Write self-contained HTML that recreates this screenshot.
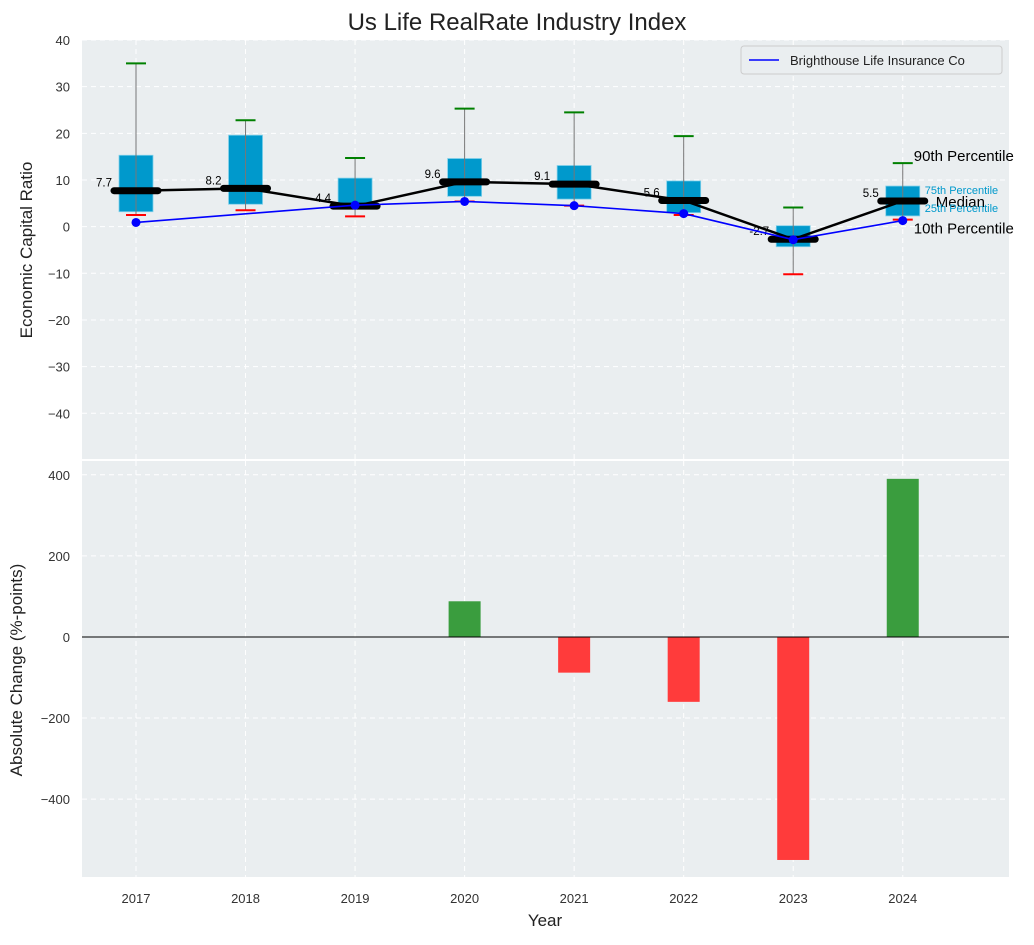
<!DOCTYPE html>
<html><head><meta charset="utf-8"><style>
body{margin:0;background:#fff;font-family:"Liberation Sans","DejaVu Sans",sans-serif}
</style></head><body>
<svg id="c" width="1034" height="940" xmlns="http://www.w3.org/2000/svg" font-family="Liberation Sans, DejaVu Sans, sans-serif"></svg>
<script>
const years=[2017,2018,2019,2020,2021,2022,2023,2024];
const p10=[2.5,3.5,2.2,5.4,4.5,2.5,-10.2,1.5];
const p25=[3.2,4.8,3.8,6.5,5.9,3.0,-4.3,2.3];
const med=[7.7,8.2,4.4,9.6,9.1,5.6,-2.7,5.5];
const p75=[15.3,19.6,10.4,14.6,13.1,9.8,0.2,8.7];
const p90=[35,22.8,14.7,25.3,24.5,19.4,4.1,13.6];
const company=[0.9,null,4.6,5.4,4.5,2.8,-2.8,1.3];
const changeYears=[2020,2021,2022,2023,2024];
const changes=[88,-88,-160,-550,390];
const topTicks=[40,30,20,10,0,-10,-20,-30,-40];
const botTicks=[400,200,0,-200,-400];

const svg=document.getElementById('c');const NS='http://www.w3.org/2000/svg';
function el(t,a,txt){const e=document.createElementNS(NS,t);for(const k in a)e.setAttribute(k,a[k]);if(txt!==undefined)e.textContent=txt;svg.appendChild(e);return e;}
const L=82,R=1009;
const X0=2016.507,X1=2024.97;
const x=v=>L+(v-X0)/(X1-X0)*(R-L);
const T1=40,B1=459,y1=v=>T1+(40-v)/(40+49.8)*(B1-T1);
const T2=461,B2=877,y2=v=>T2+(434-v)/(434+592)*(B2-T2);

let e=el('text',{x:517,y:30,'text-anchor':'middle','font-size':24,fill:'#222'},'Us Life RealRate Industry Index');

e=el('rect',{x:L,y:T1,width:R-L,height:B1-T1,fill:'#eaeef0'});

e=el('rect',{x:L,y:T2,width:R-L,height:B2-T2,fill:'#eaeef0'});

years.forEach(yr=>{
  e=el('line',{x1:x(yr),x2:x(yr),y1:T1,y2:B1,stroke:'#fff','stroke-dasharray':'5,4','stroke-width':1});
  
  e=el('line',{x1:x(yr),x2:x(yr),y1:T2,y2:B2,stroke:'#fff','stroke-dasharray':'5,4','stroke-width':1});
  
  e=el('text',{x:x(yr),y:903,'text-anchor':'middle','font-size':13,fill:'#333'},yr);
  
});
topTicks.forEach(t=>{
  e=el('line',{x1:L,x2:R,y1:y1(t),y2:y1(t),stroke:'#fff','stroke-dasharray':'5,4'});
  
  e=el('text',{x:70,y:y1(t)+5,'text-anchor':'end','font-size':13,fill:'#333'},t<0?'−'+(-t):t);
  
});
botTicks.forEach(t=>{
  e=el('line',{x1:L,x2:R,y1:y2(t),y2:y2(t),stroke:'#fff','stroke-dasharray':'5,4'});
  
  e=el('text',{x:70,y:y2(t)+5,'text-anchor':'end','font-size':13,fill:'#333'},t<0?'−'+(-t):t);
  
});
e=el('text',{transform:'translate(32,250) rotate(-90)','text-anchor':'middle','font-size':17,fill:'#222'},'Economic Capital Ratio');

e=el('text',{transform:'translate(22,670) rotate(-90)','text-anchor':'middle','font-size':17,fill:'#222'},'Absolute Change (%-points)');

e=el('text',{x:545,y:926,'text-anchor':'middle','font-size':17,fill:'#222'},'Year');


years.forEach((yr,i)=>{
  const cx=x(yr),w=34;
  e=el('rect',{x:cx-w/2,y:y1(p75[i]),width:w,height:y1(p25[i])-y1(p75[i]),fill:'#0099cc',stroke:'#7fd0ea','stroke-width':0.8});
  
  e=el('line',{x1:cx,x2:cx,y1:y1(p90[i]),y2:y1(p10[i]),stroke:'#777','stroke-width':1});
  
  e=el('line',{x1:cx-10,x2:cx+10,y1:y1(p90[i]),y2:y1(p90[i]),stroke:'green','stroke-width':2});
  
  e=el('line',{x1:cx-10,x2:cx+10,y1:y1(p10[i]),y2:y1(p10[i]),stroke:'red','stroke-width':2});
  
});
e=el('polyline',{points:years.map((yr,i)=>x(yr)+','+y1(med[i])).join(' '),fill:'none',stroke:'#000','stroke-width':2.5});

years.forEach((yr,i)=>{
  e=el('line',{x1:x(yr)-22,x2:x(yr)+22,y1:y1(med[i]),y2:y1(med[i]),stroke:'#000','stroke-width':7,'stroke-linecap':'round'});
  
  e=el('text',{x:x(yr)-24,y:y1(med[i])-4,'text-anchor':'end','font-size':11.5,fill:'#000'},med[i].toFixed(1));
  
});
const pts=years.map((yr,i)=>company[i]===null?null:[x(yr),y1(company[i])]).filter(p=>p);
e=el('polyline',{points:pts.map(p=>p.join(',')).join(' '),fill:'none',stroke:'blue','stroke-width':1.6});

pts.forEach(p=>{e=el('circle',{cx:p[0],cy:p[1],r:4.5,fill:'blue'});
  });
const bx=x(2024);const li=7;
[['90th Percentile',p90[li],15,'#000',-2,11],['75th Percentile',p75[li],11,'#0099cc',8,22],['Median',med[li],15,'#000',6,33],['25th Percentile',p25[li],11,'#0099cc',-4,22],['10th Percentile',p10[li],15,'#000',14,11]].forEach(a=>{
  e=el('text',{x:bx+a[5],y:y1(a[1])+a[4],'font-size':a[2],fill:a[3]},a[0]);
  
});
e=el('rect',{x:741,y:46,width:261,height:28,fill:'#eaeef0',stroke:'#ccc',rx:3});

e=el('line',{x1:749,x2:779,y1:60,y2:60,stroke:'blue','stroke-width':1.6});

e=el('text',{x:790,y:65,'font-size':13,fill:'#222'},'Brighthouse Life Insurance Co');

changeYears.forEach((yr,i)=>{
  const v=changes[i];
  e=el('rect',{x:x(yr)-16,y:Math.min(y2(v),y2(0)),width:32,height:Math.abs(y2(v)-y2(0)),fill:v>=0?'#3a9d3e':'#ff3b3b'});
  
});
e=el('line',{x1:L,x2:R,y1:y2(0),y2:y2(0),stroke:'#000','stroke-width':1});

</script>
</body></html>
